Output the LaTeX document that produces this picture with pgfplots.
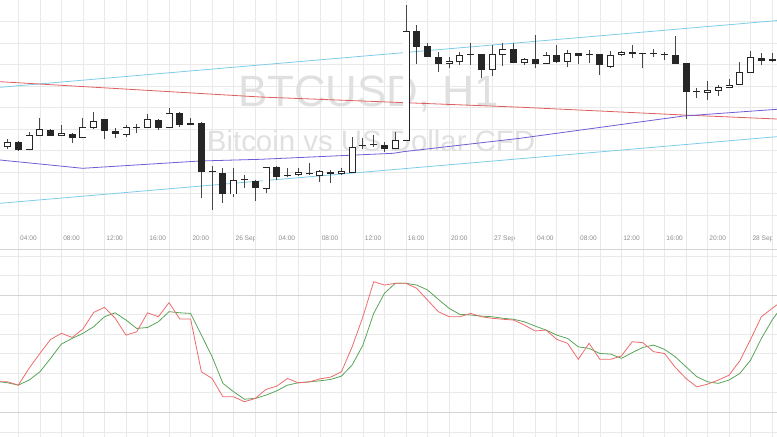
\documentclass[border=0pt]{standalone}
\usepackage{pgfplots}
\pgfplotsset{compat=1.18}
\usepackage{pgfplotstable}
\usepackage{fontspec}
\setmainfont{Liberation Sans}

\definecolor{gridc}{RGB}{233,233,233}
\definecolor{sepc}{RGB}{212,212,212}
\definecolor{chan}{RGB}{125,205,232}
\definecolor{ma200}{RGB}{222,95,95}
\definecolor{ma100}{RGB}{112,92,212}
\definecolor{kline}{RGB}{236,108,108}
\definecolor{dline}{RGB}{88,165,88}
\definecolor{wmark}{RGB}{224,224,224}

% hourly candles, t = hours from 25 Sep 00:00, prices in chart units
\pgfplotstableread{
t o hi lo c
3 82.7 91 81 88.3
4 88.3 89 79 80
5 80 98.3 80 95
6 94 111.5 94 100.5
7 100 101 93.5 94
8 94 104.5 94 97
9 96 96.5 87 92
10 92 111.5 92 102.5
11 101.7 118.3 101 109.3
12 110.5 111 90.7 99
13 99 101.7 91.7 96
14 95 105 93.3 102.7
15 102 106 97 103
16 102 116 101.7 110.7
17 110 110.5 100 101.7
18 101.7 122 101.7 116.7
19 116.7 118.3 102.7 105
20 105 112 105 106.5
21 106.7 108.3 31.7 57.5
22 58.5 64 19.5 57.5
23 56.7 61.5 26.7 35.8
24 35.5 61.5 33 50
25 50 55 41.7 51.3
26 49.3 50 29 41.7
27 41 63.3 36.7 63.3
28 63.3 63.5 50 53.3
29 54 61.7 52.7 55.3
30 55 61.7 54.3 57.7
31 55.5 66.7 55 56.8
32 54.3 59.5 48.3 59
33 58.3 60 46.7 55.7
34 56 62.3 55 59
35 57.3 93.3 57 83.3
36 83.5 91.7 80.7 84.8
37 84.5 95 83.3 85.8
38 85 88.3 78.3 80.7
39 81 97.5 80.7 89.5
40 89 225 89 199
41 199.3 205 166 183.3
42 184.3 187.3 173 173.3
43 173.3 178.3 158.3 165.7
44 165.7 173.3 161.7 169
45 167.7 178.3 165 175
46 175.2 187.3 165 176.2
47 175.7 176 151.7 160
48 160 185 154 175.7
49 175 186.7 164 181
50 181 186.7 166.7 166.7
51 166.7 172 165 170.7
52 170.7 195 161.7 165.7
53 165.7 178.3 165.7 175
54 175 185 167.3 168.3
55 168.3 180 163.3 176.7
56 176.7 177 165.7 174.3
57 174.5 180 166.7 175.5
58 175.7 176 155 165
59 163.3 179.3 161.7 175
60 175 179 174 178.3
61 178.3 185 171.7 176
62 176.5 176.7 161.7 175.5
63 175.5 180.7 173.3 176.5
64 174.5 178.3 170 175.5
65 175 194 166 166
66 166.7 166.7 110.7 138.3
67 137.8 141.7 131.7 138.8
68 137.3 149 130 140
69 139.3 145 134 143.3
70 142.3 150.7 141.7 145
71 145 168.3 145 158.3
72 157.3 179.3 157 173.3
73 172.3 176.7 165 169.3
74 171 176.7 168 169
}\candles

% stochastic %K and %D
\pgfplotstableread{
t k d
2.3 35.6 35.6
3 35.6 35.1
4 33.9 33.9
5 42.5 36.5
6 50.1 40.7
7 57.3 47.6
8 60.4 54.9
9 58.3 57.8
10 62.6 60.4
11 71.1 63.8
12 73.7 68.9
13 68.1 70.9
14 59.5 67.2
15 61.2 62.9
16 70.9 63.4
17 68.9 66.3
18 76.1 71.5
19 67.7 70.9
20 67.7 70.6
21 40.7 59.5
22 37.3 48.4
23 27.9 34.8
24 27.9 30.5
25 25.4 26.7
26 27.1 27.1
27 31.7 28.8
28 33.4 31.0
29 37.3 33.9
30 35.1 35.1
31 35.5 35.6
32 37.1 36.1
33 38.0 36.8
34 40.7 38.5
35 53.5 44.2
36 68.9 54.4
37 86.8 70.6
38 85.1 80.9
39 86.0 86.0
40 86.0 86.0
41 83.4 85.1
42 77.4 82.6
43 71.5 77.8
44 68.9 73.2
45 68.9 70.1
46 70.6 69.8
47 68.9 69.2
48 68.1 68.9
49 67.6 68.1
50 67.2 67.6
51 64.6 66.3
52 61.6 64.1
53 62.1 62.1
54 57.3 59.5
55 55.3 57.8
56 47.1 53.5
57 55.3 52.7
58 47.1 50.1
59 47.1 49.8
60 48.8 47.6
61 56.1 50.5
62 55.6 53.2
63 51.0 54.4
64 50.1 52.2
65 43.0 48.4
66 37.3 43.3
67 33.0 38.2
68 34.4 35.6
69 36.5 34.8
70 39.0 36.5
71 46.4 39.9
72 57.3 46.7
73 68.9 57.8
74 73.2 67.2
74.45 75.0 70.6
}\stoch

\pgfplotsset{
  panel/.style={
    scale only axis, width=777bp,
    xmin=2.3, xmax=74.45,
    axis line style={draw=none},
    major tick length=0pt, minor tick length=0pt,
    xtick={4,8,...,72}, minor xtick={6,10,...,74},
    xmajorgrids, xminorgrids,
    major grid style={gridc, line width=0.6bp},
    minor grid style={gridc, line width=0.6bp},
    ytick=\empty,
  },
  candle/.style={draw=none, mark=none,
    error bars/.cd, y dir=plus, y explicit, error mark=none},
}

\begin{document}
\begin{tikzpicture}
\useasboundingbox (0,0) rectangle (777bp,-437bp);

% price panel
\begin{axis}[panel,
  at={(0,0)}, anchor=north west, height=230bp,
  ymin=0, ymax=230,
  xticklabels={04:00,08:00,12:00,16:00,20:00,26 Sep,04:00,08:00,12:00,16:00,20:00,27 Sep,04:00,08:00,12:00,16:00,20:00,28 Sep},
  xticklabel style={font=\fontsize{6.6}{7}\selectfont, text=black!45, anchor=north west, xshift=-1.6bp, yshift=-2.5bp},
]
\pgfplotsinvokeforeach{15,36.5,58,79.5,101,122.5,144,165.5,187,208.5}{
  \draw[gridc, line width=0.6bp] (axis cs:2.3,#1) -- (axis cs:74.45,#1);
}
\node[anchor=base west, text=wmark, font=\fontsize{44}{44}\selectfont, inner sep=0pt] at (axis cs:24.4,123.5) {BTCUSD, H1};
\node[anchor=base west, text=wmark, font=\fontsize{29.5}{30}\selectfont, inner sep=0pt] at (axis cs:21.5,78.5) {Bitcoin vs US Dollar CFD};

\draw[sepc, line width=0.7bp] (rel axis cs:0,0) -- (rel axis cs:1,0);

% channel and moving averages
\addplot[chan, line width=0.8bp] coordinates {(2.3,142.7) (74.45,209.4)};
\addplot[chan, line width=0.8bp] coordinates {(2.3,26.7) (74.45,93.3)};
\addplot[ma200, line width=0.8bp] coordinates {(2.3,148.3) (26.47,133) (50.58,122.8) (65.78,115) (74.45,111)};
\addplot[ma100, line width=0.8bp] coordinates {(2.3,70) (9.98,61.7) (20.87,69) (26.47,70.7) (38.82,76.7) (39.75,78.3) (50.58,91.7) (65.78,114) (74.45,120.7)};

% wicks
\addplot[candle, error bar style={draw=black!72, line width=0.9bp}]
  table[x=t, y=lo, y error plus expr=\thisrow{hi}-\thisrow{lo}] {\candles};
% body outline / black bodies
\addplot[candle, error bar style={draw=black!85, line width=7bp}]
  table[x=t, y expr={min(\thisrow{o},\thisrow{c})}, y error plus expr={abs(\thisrow{c}-\thisrow{o})}] {\candles};
% hollow inside of rising candles
\addplot[restrict expr to domain={\thisrow{c}-\thisrow{o}}{1.9:1000}, candle,
  error bar style={draw=white, line width=5.2bp}]
  table[x=t, y expr={\thisrow{o}+0.9}, y error plus expr={\thisrow{c}-\thisrow{o}-1.8}] {\candles};
\end{axis}

% stochastic panel
\begin{axis}[panel,
  at={(0,-230bp)}, anchor=north west, height=207bp,
  ymin=7.35, ymax=113.28,
  xticklabels={},
]
\pgfplotsinvokeforeach{10,30,40,50,60,70,90,100}{
  \draw[gridc, line width=0.6bp] (axis cs:2.3,#1) -- (axis cs:74.45,#1);
}
\pgfplotsinvokeforeach{20,80,103.55}{
  \draw[sepc, line width=0.7bp] (axis cs:2.3,#1) -- (axis cs:74.45,#1);
}
\addplot[dline, line width=0.8bp] table[x=t, y=d] {\stoch};
\addplot[kline, line width=0.8bp] table[x=t, y=k] {\stoch};
\end{axis}
\end{tikzpicture}
\end{document}
